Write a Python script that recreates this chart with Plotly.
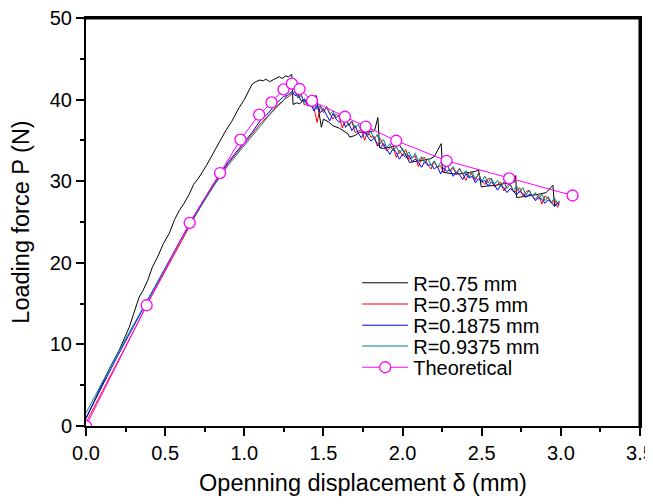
import plotly.graph_objects as go

# ---------------- data ----------------
RISE_X = [0, 0.1, 0.2, 0.3, 0.4, 0.5, 0.6, 0.7, 0.8, 0.9, 1.0, 1.05, 1.1, 1.15,
          1.2, 1.225, 1.25, 1.275, 1.3]

DESC_X = [1.32, 1.34, 1.36, 1.38, 1.40, 1.42, 1.44, 1.46, 1.48, 1.50,
          1.52, 1.54, 1.56, 1.58, 1.60, 1.62, 1.64, 1.66, 1.68, 1.70,
          1.72, 1.74, 1.76, 1.78, 1.80, 1.82, 1.84, 1.86, 1.88, 1.90,
          1.92, 1.94, 1.96, 1.98, 2.00, 2.02, 2.04, 2.06, 2.08, 2.10,
          2.12, 2.14, 2.16, 2.18, 2.20, 2.22, 2.24, 2.26, 2.28, 2.30,
          2.32, 2.34, 2.36, 2.38, 2.40, 2.42, 2.44, 2.46, 2.48, 2.50,
          2.52, 2.54, 2.56, 2.58, 2.60, 2.62, 2.64, 2.66, 2.68, 2.70,
          2.72, 2.74, 2.76, 2.78, 2.80, 2.82, 2.84, 2.86, 2.88, 2.90,
          2.92, 2.94, 2.96, 2.98, 2.99]

RED_RISE = [0.4, 4.1, 7.9, 11.6, 15.4, 19.0, 22.6, 26.1, 29.3, 32.2, 34.6, 35.8,
            37.0, 38.0, 39.1, 39.4, 40.0, 40.3, 40.7]
RED_DESC = [41.0, 40.2, 40.7, 39.3, 39.7, 39.8, 39.0, 37.2, 39.2, 38.4,
            39.2, 38.3, 37.6, 38.2, 37.8, 36.5, 37.7, 36.8, 37.3, 36.0,
            36.1, 36.4, 35.0, 36.1, 35.4, 35.5, 34.3, 35.2, 34.3, 33.7,
            34.1, 34.3, 32.9, 33.8, 33.1, 33.9, 32.7, 32.9, 33.1, 31.8,
            32.8, 32.9, 32.0, 31.5, 32.4, 31.7, 31.9, 31.0, 32.1, 31.2,
            31.6, 30.8, 31.5, 30.9, 30.1, 31.1, 30.8, 30.1, 31.0, 30.0,
            29.6, 30.3, 30.3, 29.3, 29.6, 29.9, 28.8, 29.5, 29.7, 28.7,
            28.8, 29.2, 28.1, 28.7, 28.9, 28.1, 27.8, 28.3, 27.2, 28.2,
            27.9, 27.3, 27.7, 26.8, 27.5]

BLUE_RISE = [1.0, 4.9, 8.6, 12.2, 15.8, 19.4, 22.9, 26.3, 29.5, 32.4, 34.8, 36.0,
             37.4, 38.3, 39.5, 39.9, 40.4, 40.5, 41.0]
BLUE_DESC = [40.5, 40.6, 39.8, 40.1, 39.2, 39.5, 38.6, 39.3, 38.4, 38.9,
             38.1, 37.4, 38.3, 37.6, 37.2, 37.7, 36.6, 37.1, 36.2, 36.8,
             35.9, 35.3, 36.0, 35.5, 34.9, 35.3, 34.6, 34.1, 34.6, 33.9,
             33.3, 34.0, 33.5, 32.7, 33.3, 32.9, 33.2, 32.4, 32.7, 32.3,
             31.7, 32.4, 31.9, 32.1, 31.5, 31.8, 30.9, 31.6, 31.2, 31.4,
             30.6, 31.1, 30.8, 30.2, 30.9, 30.4, 30.6, 29.8, 30.3, 29.9,
             30.1, 29.4, 29.9, 29.6, 28.9, 29.5, 29.2, 28.6, 29.1, 28.8,
             28.3, 28.8, 28.5, 28.0, 28.4, 28.2, 27.6, 28.0, 27.8, 27.3,
             27.7, 27.4, 26.9, 27.3, 27.1]

TEAL_RISE = [1.6, 5.3, 8.9, 12.4, 15.9, 19.4, 22.8, 26.1, 29.2, 32.0, 34.4, 35.5,
             36.8, 37.9, 39.0, 39.6, 39.9, 40.6, 40.8]
TEAL_DESC = [40.9, 40.2, 40.5, 39.6, 40.0, 39.1, 39.6, 38.8, 39.3, 38.6,
             39.0, 38.2, 38.6, 37.7, 38.2, 37.3, 37.8, 36.9, 37.4, 36.5,
             37.0, 36.1, 36.6, 35.6, 36.1, 35.1, 35.7, 34.6, 35.1, 34.1,
             34.6, 33.7, 34.3, 33.4, 34.0, 33.1, 33.6, 32.8, 33.4, 32.5,
             33.0, 32.2, 32.8, 31.9, 32.5, 31.7, 32.3, 31.5, 32.0, 31.3,
             31.8, 31.0, 31.6, 30.8, 31.3, 30.5, 31.1, 30.3, 30.9, 30.0,
             30.6, 29.8, 30.4, 29.6, 30.1, 29.3, 29.9, 29.1, 29.6, 28.8,
             29.4, 28.6, 29.2, 28.3, 28.9, 28.1, 28.6, 27.8, 28.4, 27.6,
             28.1, 27.4, 27.9, 27.3, 27.6]

BLACK_X = [0, 0.05, 0.1, 0.15, 0.21, 0.24, 0.273, 0.3, 0.336, 0.36, 0.389, 0.42,
           0.452, 0.49, 0.526, 0.56, 0.589, 0.62, 0.652, 0.68, 0.715, 0.76, 0.8,
           0.84, 0.883, 0.92, 0.967, 1.0, 1.03, 1.05, 1.073, 1.1, 1.12, 1.136,
           1.16, 1.178, 1.2, 1.22, 1.24, 1.262, 1.28, 1.295, 1.3, 1.308, 1.33,
           1.35, 1.371, 1.4, 1.43, 1.455, 1.487, 1.5, 1.53, 1.56, 1.6, 1.63,
           1.655, 1.666, 1.7, 1.729, 1.76, 1.8, 1.823, 1.844, 1.855, 1.88, 1.92,
           1.95, 1.981, 2.013, 2.044, 2.08, 2.12, 2.17, 2.2, 2.244, 2.254, 2.28,
           2.32, 2.36, 2.42, 2.46, 2.48, 2.497, 2.53, 2.59, 2.64, 2.68, 2.707,
           2.715, 2.72, 2.76, 2.8, 2.86, 2.907, 2.95, 2.96, 2.99]
BLACK_Y = [0.9, 3.0, 5.2, 7.1, 9.3, 10.6, 12.1, 13.7, 15.8, 16.6, 17.8, 19.5,
           20.7, 22.4, 23.6, 25.3, 26.4, 27.3, 28.4, 29.6, 30.5, 31.9, 33.3,
           34.6, 36.2, 37.3, 39.0, 40.0, 41.1, 41.9, 42.2, 42.4, 42.3, 42.5,
           42.2, 42.4, 42.6, 42.8, 42.6, 42.9, 42.8, 43.0, 43.1, 39.4, 39.6,
           39.5, 39.85, 39.9, 40.2, 40.5, 36.6, 37.6, 37.3, 36.8, 36.5, 36.1,
           35.8, 35.4, 35.6, 36.0, 36.0, 36.1, 36.2, 37.8, 34.1, 34.0, 34.2,
           34.3, 34.4, 33.5, 32.3, 32.4, 32.5, 32.7, 33.0, 34.6, 31.1, 31.0,
           30.9, 30.9, 31.1, 31.2, 31.4, 29.3, 29.4, 29.5, 29.7, 29.8, 29.9,
           30.7, 28.0, 28.1, 28.2, 28.4, 28.6, 29.5, 27.0, 27.4]

THEO_X = [0, 0.383, 0.655, 0.847, 0.976, 1.094, 1.172, 1.248, 1.300, 1.349,
          1.428, 1.636, 1.767, 1.96, 2.278, 2.673, 3.074]
THEO_Y = [0, 14.8, 24.9, 31.0, 35.1, 38.15, 39.65, 41.25, 41.95, 41.3, 39.85,
          37.9, 36.7, 34.96, 32.5, 30.35, 28.25]

NAMES = ["R=0.75 mm", "R=0.375 mm", "R=0.1875 mm", "R=0.9375 mm", "Theoretical"]
COLORS = ["#000000", "#FF0000", "#0000FF", "#008080", "#FF00FF"]

X_RANGE = [0, 3.5]
Y_RANGE = [0, 50]
X_TICKS = [0.0, 0.5, 1.0, 1.5, 2.0, 2.5, 3.0, 3.5]
Y_TICKS = [0, 10, 20, 30, 40, 50]

# ---------------- figure ----------------
FONT = "Liberation Sans, Arial, Helvetica, sans-serif"
fig = go.Figure()

# top and right edges of the frame, following the axis ranges
fig.add_trace(go.Scatter(x=[X_RANGE[0], X_RANGE[1], X_RANGE[1]],
                         y=[Y_RANGE[1], Y_RANGE[1], Y_RANGE[0]],
                         mode="lines", line=dict(color="black", width=3),
                         showlegend=False, hoverinfo="skip"))

series = [
    (BLACK_X, BLACK_Y),
    (RISE_X + DESC_X, RED_RISE + RED_DESC),
    (RISE_X + DESC_X, BLUE_RISE + BLUE_DESC),
    (RISE_X + DESC_X, TEAL_RISE + TEAL_DESC),
]
legend_ids = ["legend", "legend2", "legend3", "legend4", "legend5"]
for i, (xs, ys) in enumerate(series):
    fig.add_trace(go.Scatter(x=xs, y=ys, mode="lines", name=NAMES[i],
                             line=dict(color=COLORS[i], width=1),
                             legend=legend_ids[i]))

fig.add_trace(go.Scatter(x=THEO_X, y=THEO_Y, mode="lines+markers", name=NAMES[4],
                         line=dict(color=COLORS[4], width=1),
                         marker=dict(symbol="circle", size=11, color="white",
                                     line=dict(color=COLORS[4], width=1.3)),
                         legend=legend_ids[4]))

# legends: one entry each, stacked inside the plot
leg_y = [0.351, 0.299, 0.247, 0.196, 0.144]
legend_layout = {}
for lid, yy in zip(legend_ids, leg_y):
    legend_layout[lid] = dict(x=0.4895, y=yy, xanchor="left", yanchor="middle",
                              bgcolor="rgba(0,0,0,0)", borderwidth=0,
                              font=dict(family=FONT, size=20, color="black"),
                              itemwidth=46)

# the page body adds an 8 px margin on every side: keep the figure inside the window
fig.update_layout(
    width=637, height=488,
    margin=dict(l=78, r=5, t=10, b=70),
    paper_bgcolor="white", plot_bgcolor="white",
    font=dict(family=FONT, size=20, color="black"),
    showlegend=True,
    **legend_layout,
)

fig.update_xaxes(
    range=X_RANGE, tickvals=X_TICKS, tickformat=".1f", automargin=False,
    ticklabeloverflow="allow",
    showgrid=False, zeroline=False,
    showline=True, linecolor="black", linewidth=2, mirror=True,
    ticks="outside", ticklen=8, tickwidth=1.5, tickcolor="black",
    minor=dict(ticks="outside", ticklen=4, tickwidth=1.5, tickcolor="black",
               dtick=0.25, tick0=0, showgrid=False),
    tickfont=dict(family=FONT, size=20, color="black"),
    title=dict(text="Openning displacement \u03b4 (mm)", standoff=16,
               font=dict(family=FONT, size=23.5, color="black")),
)
fig.update_yaxes(
    range=Y_RANGE, tickvals=Y_TICKS, automargin=False,
    ticklabeloverflow="allow",
    showgrid=False, zeroline=False,
    showline=True, linecolor="black", linewidth=2, mirror=True,
    ticks="outside", ticklen=8, tickwidth=1.5, tickcolor="black",
    minor=dict(ticks="outside", ticklen=4, tickwidth=1.5, tickcolor="black",
               dtick=5, tick0=0, showgrid=False),
    tickfont=dict(family=FONT, size=20, color="black"),
    title=dict(text="Loading force P (N)", standoff=14,
               font=dict(family=FONT, size=23.5, color="black")),
)

fig.write_html("out.html")
